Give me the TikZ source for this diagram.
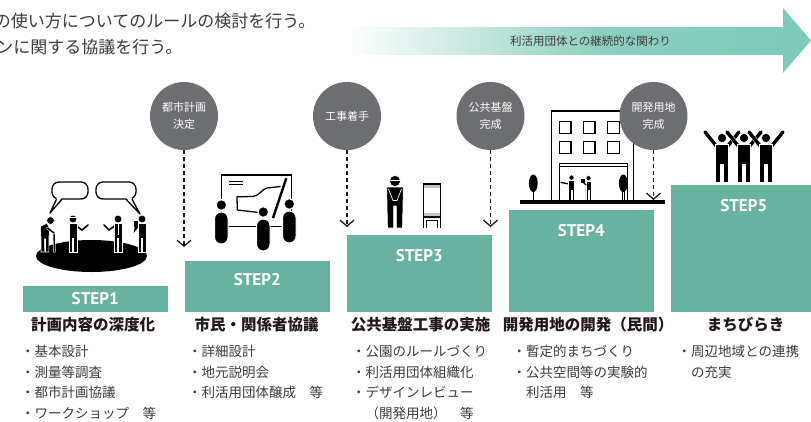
\documentclass[tikz,border=0pt]{standalone}
\usepackage{fontspec}
\newfontfamily\jp{Noto Sans CJK JP}
\newfontfamily\stepfont{PT Sans}
\usetikzlibrary{arrows.meta}

\definecolor{stepteal}{HTML}{68B3A0}
\definecolor{arrowteal}{HTML}{7ECAB8}
\definecolor{milestonegray}{HTML}{6D6E71}
\definecolor{ink}{HTML}{231815}
\definecolor{bodytext}{HTML}{3E3A39}

\tikzset{
  stepbox/.style={fill=stepteal, draw=none, minimum width=145pt, anchor=north west, inner sep=0pt},
  steplabel/.style={text=white, inner sep=0pt, font=\stepfont\bfseries\fontsize{17}{17}\selectfont},
  heading/.style={text=ink, inner sep=0pt, font=\jp\bfseries\fontsize{15.5}{16}\selectfont},
  item/.style={anchor=west, text=bodytext, inner sep=0pt, font=\jp\fontsize{13.5}{14}\selectfont},
  intro/.style={anchor=west, text=bodytext, inner sep=0pt, font=\jp\fontsize{17}{17}\selectfont},
  milestone/.style={circle, fill=milestonegray, minimum size=68pt, inner sep=0pt, text=white,
    align=center, font=\jp\fontsize{11}{17.5}\selectfont},
  flow/.style={draw=ink, line width=1.3pt, dash pattern=on 4pt off 3pt,
    -{Straight Barb[length=6pt,width=14pt]}},
  fig/.style={fill=black, draw=white, line width=0.6pt},
  limb/.style={draw=white, double=black, double distance=#1, line width=0.5pt, line cap=round},
  outline/.style={draw=black, line width=1.3pt},
  bubble/.style={draw=black, line width=1.3pt, fill=white},
  % standing figure, origin at the feet
  pics/man/.style={code={
    \path[fig] (-4,-28.5) -- (4,-28.5) -- (4,0) -- (0.6,0) -- (0.6,-14) -- (-0.6,-14)
      -- (-0.6,0) -- (-4,0) -- cycle;
    \path[fig] (0,-33) circle[radius=3.9];
  }},
  % elderly figure with a cane
  pics/elder/.style={code={
    \draw[limb=1.4pt] (9,-19) -- (9.5,0);
    \path[fig] (-4.5,-25.5) -- (2,-29) -- (5,-23) -- (3.8,-14) -- (3.8,0) -- (0.5,0)
      -- (0.5,-13) -- (-0.6,-13) -- (-0.6,0) -- (-4,0) -- (-4,-14) -- cycle;
    \path[fig] (5.5,-31.5) circle[radius=3.9];
    \draw[limb=1.6pt] (2.5,-24) -- (9,-19);
  }},
  % figure with both arms raised
  pics/cheer/.style={code={
    \draw[limb=3.4pt] (-4.5,-34.5) -- (-17,-50);
    \draw[limb=3.4pt] (4.5,-34.5) -- (17,-50);
    \path[fig] (-6.5,-37.5) -- (6.5,-37.5) -- (6.5,0) -- (1.3,0) -- (1.3,-18) -- (-1.3,-18)
      -- (-1.3,0) -- (-6.5,0) -- cycle;
    \path[fig] (0,-44) circle[radius=4.6];
  }},
  % rounded figure seen from behind
  pics/blob/.style={code={
    \path[fill=black, draw=white, line width=1.2pt, rounded corners=6.5pt] (-6.8,-32) rectangle (6.8,0);
    \path[fill=black, draw=white, line width=1.2pt] (0,-39) circle[radius=5.4];
  }}
}

\begin{document}
\begin{tikzpicture}[x=1pt, y=-1pt]
\useasboundingbox (0,0) rectangle (811,421);

% introductory lines, cut at the left edge
\begin{scope}
  \clip (0,0) rectangle (811,421);
  \node[intro] (intro1) at (-6.3,20.7) {の使い方についてのルールの検討を行う。};
  \node[intro] (intro2) at (-3.8,46.7) {ンに関する協議を行う。};
\end{scope}

% long gradient arrow
\shade[left color=white, right color=arrowteal!90] (347,27) rectangle (602,54);
\shade[left color=arrowteal!90, right color=arrowteal] (601,27) rectangle (784,54);
\fill[arrowteal] (783,8) -- (811,40.5) -- (783,73) -- cycle;
\node[text=bodytext, inner sep=0pt, font=\jp\fontsize{11.5}{12}\selectfont] (flowlabel)
  at (590.5,41.5) {利活用団体との継続的な関わり};

% ---------- pictogram: workshop ----------
\fill[black] (91.5,256) ellipse[x radius=55.5, y radius=16];
\draw[bubble, rounded corners=7pt] (52,182) rectangle (88,199);
\fill[white] (56.8,198) -- (50,213) -- (61.5,198) -- cycle;
\draw[line width=1.3pt, line join=round] (56.5,199.2) -- (50,213) -- (62,199.2);
\draw[bubble, rounded corners=7pt] (96,182) rectangle (136,199);
\fill[white] (126.5,198) -- (140,214) -- (131.5,198) -- cycle;
\draw[line width=1.3pt, line join=round] (126,199.2) -- (140,214) -- (132,199.2);

\pic at (45,252) {elder};
\draw[limb=1.6pt] (76.5,226) -- (82,230) -- (88,225);
\pic at (73,252) {man};
\draw[white, line width=0.9pt] (69.2,217.8) -- (76.8,217.8);
\draw[limb=1.6pt] (114.5,226) -- (109,230) -- (104,225);
\pic at (118,252) {man};
\draw[white, line width=0.6pt] (118,224) -- (118,235);
\draw[limb=1.6pt] (138.5,226) -- (135,230) -- (136,225);
\pic at (142,252) {man};
\fill[black] (133.5,221) rectangle (137.5,226.5);

% ---------- pictogram: briefing board ----------
\draw[outline] (221.7,175) rectangle (291.7,226.7);
\draw[line width=1pt] (229,181) -- (243,181) (229,184) -- (243,184);
\draw[line width=1.3pt, line join=round] (280.5,186.5) -- (267,188)
  .. controls (262,189) and (259,196) .. (253,196.5) -- (237,196.8) -- (237.3,210) -- (259,212.5);
\draw[line width=2.4pt] (286.3,178.3) -- (273,218);
\pic at (221.3,244) {blob};
\pic at (263.3,251) {blob};
\pic at (289.3,243) {blob};

% ---------- pictogram: site worker and barrier ----------
\path[fig] (386.7,187) -- (403.3,187) -- (402.5,228) -- (396.3,228) -- (396.3,206)
  -- (393.7,206) -- (393.7,228) -- (387.5,228) -- cycle;
\path[fig] (395,181) circle[radius=5.6];
\draw[white, line width=0.9pt] (389,180.5) -- (401,180.5);
\draw[white, line width=0.7pt] (388.5,189) -- (393,200.5) -- (397,200.5) -- (401.5,189);
\fill[gray!45] (424,184.6) rectangle (440,187.8);
\fill[gray!45] (424,213.3) rectangle (440,216.7);
\draw[line width=1.2pt] (423.3,228) -- (423.3,184) -- (440.7,184) -- (440.7,228);
\draw[line width=1.1pt] (423.3,217) -- (440.7,217);
\draw[line width=1.1pt] (426.8,228) -- (426.8,220.3) -- (437.2,220.3) -- (437.2,228);

% ---------- pictogram: new building ----------
\draw[outline] (551.7,200) -- (551.7,111) -- (633.3,111) -- (633.3,200);
\foreach \wx in {559.3,583.3,607.7}
  \foreach \wy in {121.7,141.7}
    \draw[outline] (\wx,\wy) rectangle ++(11.7,11.7);
\draw[line width=1.1pt] (559.5,200) -- (559.5,163.3) -- (627.5,163.3) -- (627.5,200);
\draw[line width=1.1pt] (559.5,166.7) -- (627.5,166.7);
\fill[black] (533.3,183.3) ellipse[x radius=4.4, y radius=8.8];
\draw[line width=1.3pt] (533.3,190) -- (533.3,200);
\fill[black] (623.3,183.3) ellipse[x radius=4.4, y radius=8.8];
\draw[line width=1.3pt] (622.3,190) -- (622.3,200) (624.3,190) -- (624.3,200);
\draw[limb=1.3pt] (569,184) -- (561,182.5);
\pic[scale=0.68] at (571.5,200) {man};
\pic[scale=0.66] at (588.5,200) {man};
\draw[limb=1.2pt] (586,185) -- (583,182);
\fill[black] (581,178.5) rectangle (584.5,182.5);
\fill[black] (520,200) rectangle (665,204);

% ---------- pictogram: celebration ----------
\pic at (722,182) {cheer};
\pic at (744,182) {cheer};
\pic at (766,182) {cheer};

% ---------- step boxes ----------
\node[stepbox, minimum height=25.5pt] (s1) at (22.5,286) {};
\node[stepbox, minimum height=50.5pt] (s2) at (184.5,261) {};
\node[stepbox, minimum height=76.5pt] (s3) at (346.5,235) {};
\node[stepbox, minimum height=101.5pt] (s4) at (508.5,210) {};
\node[stepbox, minimum height=126.5pt] (s5) at (671,185) {};
\node[steplabel] (l1) at ([yshift=-12.5pt]s1.north) {STEP1};
\node[steplabel] (l2) at ([yshift=-19pt]s2.north) {STEP2};
\node[steplabel] (l3) at ([yshift=-21pt]s3.north) {STEP3};
\node[steplabel] (l4) at ([yshift=-21pt]s4.north) {STEP4};
\node[steplabel] (l5) at ([yshift=-21pt]s5.north) {STEP5};

% ---------- milestones ----------
\node[milestone] (m1) at (184,116) {都市計画\\決定};
\node[milestone] (m2) at (347,116) {工事着手};
\node[milestone] (m3) at (490.5,116) {公共基盤\\完成};
\node[milestone] (m4) at (653.5,116) {開発用地\\完成};
\coordinate (e1) at (184,247);
\coordinate (e2) at (347,227);
\coordinate (e3) at (490.5,227);
\coordinate (e4) at (653.5,200);
\draw[flow] (m1) -- (e1);
\draw[flow] (m2) -- (e2);
\draw[flow] (m3) -- (e3);
\draw[flow] (m4) -- (e4);

% ---------- headings and details ----------
\node[heading] (h1) at (93,325) {計画内容の深度化};
\node[heading] (h2) at (256.5,325) {市民・関係者協議};
\node[heading] (h3) at (420.5,325) {公共基盤工事の実施};
\node[heading] (h4) at (588,325) {開発用地の開発（民間）};
\node[heading] (h5) at (745.5,325) {まちびらき};

\node[item] (t11) at (21,351.5) {・基本設計};
\node[item] (t12) at (21,372) {・測量等調査};
\node[item] (t13) at (21,392.5) {・都市計画協議};
\node[item] (t14) at (21,413) {・ワークショップ　等};

\node[item] (t21) at (188,351.5) {・詳細設計};
\node[item] (t22) at (188,372) {・地元説明会};
\node[item] (t23) at (188,392.5) {・利活用団体醸成　等};

\node[item] (t31) at (352,351.5) {・公園のルールづくり};
\node[item] (t32) at (352,372) {・利活用団体組織化};
\node[item] (t33) at (352,392.5) {・デザインレビュー};
\node[item] (t34) at (352,413) {　（開発用地）　等};

\node[item] (t41) at (512.5,351.5) {・暫定的まちづくり};
\node[item] (t42) at (512.5,372) {・公共空間等の実験的};
\node[item] (t43) at (512.5,392.5) {　利活用　等};

\node[item] (t51) at (677.5,351.5) {・周辺地域との連携};
\node[item] (t52) at (677.5,372) {　の充実};
\end{tikzpicture}
\end{document}
